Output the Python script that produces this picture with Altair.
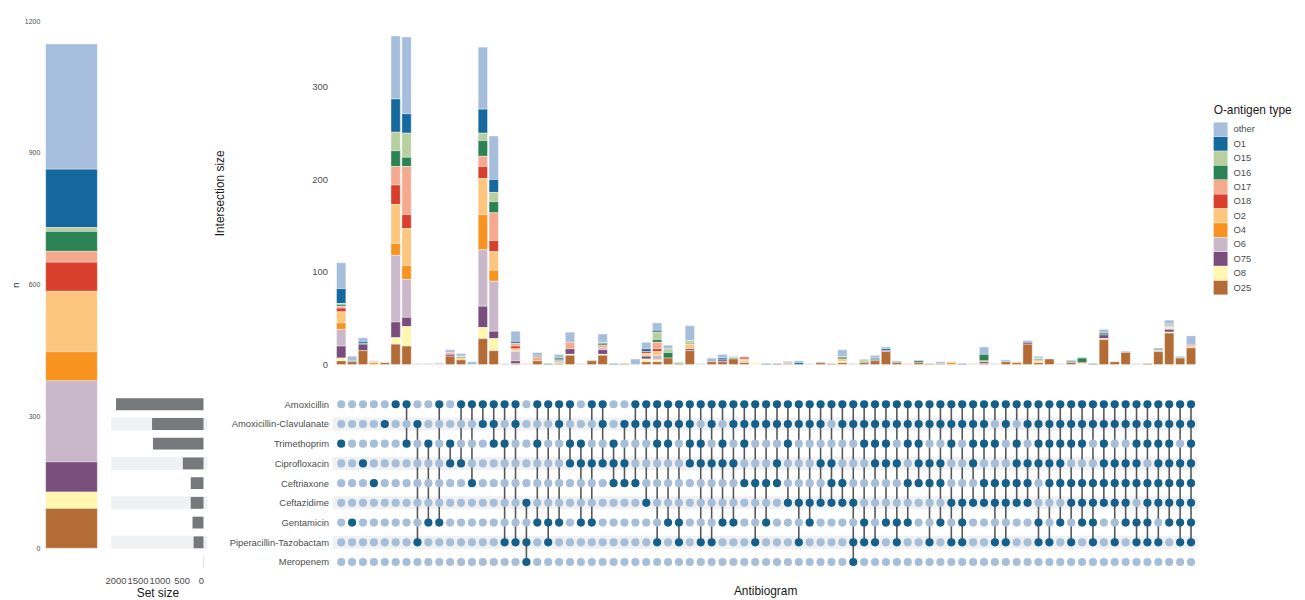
import altair as alt
import pandas as pd

# ---------------- data ----------------
antibiotics = ["Amoxicillin", "Amoxicillin-Clavulanate", "Trimethoprim", "Ciprofloxacin",
               "Ceftriaxone", "Ceftazidime", "Gentamicin", "Piperacillin-Tazobactam", "Meropenem"]
abx_codes = ["AMX", "AMC", "TMP", "CIP", "CRO", "CAZ", "GEN", "TZP", "MEM"]
set_size = [1990, 1170, 1150, 470, 290, 290, 250, 225, 4]

combinations = [
    "TMP", "GEN", "CIP", "CRO", "AMC", "AMX",
    "AMX TMP", "AMC TZP", "TMP GEN", "AMX GEN", "TMP CIP", "AMX CIP", "AMX CRO", "AMX AMC",
    "AMX AMC TMP", "AMX TMP TZP", "AMX AMC TZP", "CAZ TZP MEM", "AMX TMP GEN", "AMX GEN TZP",
    "AMX AMC GEN", "AMX TMP CIP", "TMP CIP GEN", "AMX CIP GEN", "AMX AMC CIP", "TMP CIP CRO",
    "AMC CIP CRO", "AMX AMC CRO", "AMX AMC CAZ",
    "AMX AMC TMP TZP", "AMX AMC TMP GEN", "AMX AMC GEN TZP", "AMX AMC TMP CIP", "AMX TMP CIP TZP",
    "AMX AMC CIP TZP", "AMX TMP CIP GEN", "AMX AMC CIP GEN", "AMX AMC TMP CRO", "AMX AMC CRO TZP",
    "AMX AMC CRO GEN", "AMX AMC CIP CRO", "AMX AMC TMP CAZ", "AMX AMC CAZ TZP", "AMX AMC CAZ GEN",
    "AMX AMC CIP CAZ", "AMX CIP CRO CAZ", "AMX AMC CRO CAZ",
    "AMX AMC CAZ TZP MEM", "AMX AMC TMP GEN TZP", "AMX AMC TMP CIP TZP", "AMX AMC TMP CIP GEN",
    "AMX AMC CIP GEN TZP", "AMX AMC TMP CRO GEN", "AMX AMC TMP CIP CRO", "AMX AMC CIP CRO TZP",
    "AMX AMC CIP CRO GEN", "AMX AMC TMP CAZ TZP", "AMX AMC CAZ GEN TZP", "AMX AMC TMP CIP CAZ",
    "AMX AMC TMP CRO CAZ", "AMX TMP CRO CAZ TZP", "AMX AMC CRO CAZ TZP", "AMX TMP CIP CRO CAZ",
    "AMX AMC CIP CRO CAZ",
    "AMX AMC TMP CIP GEN TZP", "AMX AMC TMP CIP CRO TZP", "AMX AMC TMP CIP CRO GEN",
    "AMX AMC TMP CRO CAZ TZP", "AMX AMC TMP CRO CAZ GEN", "AMX AMC CRO CAZ GEN TZP",
    "AMX AMC TMP CIP CRO CAZ", "AMX AMC CIP CRO CAZ TZP", "AMX AMC CIP CRO CAZ GEN",
    "AMX AMC TMP CIP CRO GEN TZP", "AMX AMC TMP CRO CAZ GEN TZP", "AMX AMC TMP CIP CRO CAZ TZP",
    "AMX AMC TMP CIP CRO CAZ GEN", "AMX AMC CIP CRO CAZ GEN TZP",
    "AMX AMC TMP CIP CRO CAZ GEN TZP",
]

o_types = ["other", "O1", "O15", "O16", "O17", "O18", "O2", "O4", "O6", "O75", "O8", "O25"]
o_colors = ["#a6bddb", "#16699f", "#b8cf9f", "#2b8252", "#f5a98f", "#d83f2c",
            "#fcc67f", "#f7931e", "#c8b8c9", "#7a4e7c", "#fff6b0", "#b46c36"]

# left bar: total n by O-antigen type
total_n = [285, 133, 9, 45, 25, 66, 138, 66, 185, 68, 38, 90]

# intersection sizes per O-antigen type (one value per antibiogram column)
other = [28, 5, 4, 1, 0, 68, 83, 0, 1, 1,
         3, 3, 3, 67, 47, 1, 11, 0, 4, 0,
         4, 11, 1, 1, 8, 0, 0, 6, 7, 8,
         4, 0, 16, 1, 4, 4, 1, 0, 0, 0,
         0, 0, 2, 0, 1, 0, 6, 1, 1, 3,
         2, 1, 0, 1, 0, 2, 1, 0, 0, 8,
         0, 2, 0, 2, 2, 0, 1, 1, 1, 0,
         4, 0, 0, 1, 0, 3, 4, 2, 10]
O1 = [16, 0, 2, 0, 0, 36, 21, 0, 0, 0,
      0, 0, 0, 26, 14, 0, 2, 0, 0, 0,
      0, 0, 0, 0, 1, 1, 0, 0, 3, 2,
      0, 0, 0, 0, 0, 2, 0, 0, 0, 0,
      0, 1, 2, 0, 0, 0, 1, 0, 0, 1,
      2, 1, 0, 0, 0, 0, 0, 0, 0, 0,
      0, 0, 0, 0, 0, 0, 0, 1, 0, 0,
      0, 0, 1, 0, 0, 0, 1, 0, 0]
O15 = [1, 0, 0, 0, 0, 20, 26, 0, 0, 0,
       0, 1, 0, 8, 10, 0, 0, 0, 0, 0,
       0, 0, 0, 0, 1, 0, 0, 0, 0, 8,
       4, 0, 3, 0, 0, 0, 1, 0, 0, 0,
       0, 0, 0, 0, 0, 0, 1, 0, 2, 0,
       0, 0, 0, 0, 0, 0, 0, 0, 1, 0,
       0, 0, 0, 0, 1, 0, 0, 0, 0, 0,
       0, 0, 0, 0, 0, 1, 1, 0, 0]
O16 = [2, 1, 1, 0, 0, 17, 10, 0, 0, 0,
       0, 1, 0, 17, 12, 0, 0, 0, 1, 1,
       2, 0, 0, 0, 2, 0, 0, 0, 0, 3,
       6, 1, 1, 0, 0, 0, 1, 0, 0, 1,
       0, 0, 0, 0, 0, 0, 2, 0, 1, 1,
       0, 0, 0, 2, 0, 0, 0, 0, 0, 7,
       0, 0, 0, 0, 1, 0, 0, 1, 5, 1,
       2, 0, 0, 0, 0, 0, 1, 0, 0]
O17 = [2, 0, 0, 0, 0, 20, 52, 0, 0, 1,
       2, 0, 0, 11, 30, 0, 3, 1, 4, 0,
       0, 7, 0, 0, 3, 0, 0, 0, 0, 7,
       0, 0, 0, 0, 0, 0, 0, 0, 0, 0,
       0, 0, 0, 0, 0, 0, 0, 0, 0, 0,
       0, 0, 1, 0, 0, 0, 0, 0, 0, 0,
       0, 0, 0, 0, 0, 0, 0, 0, 0, 0,
       0, 0, 0, 0, 0, 0, 1, 0, 2]
O18 = [4, 0, 0, 0, 0, 21, 15, 0, 0, 0,
       0, 0, 0, 13, 12, 0, 3, 0, 0, 0,
       0, 0, 0, 0, 0, 0, 0, 0, 2, 3,
       0, 0, 0, 0, 0, 0, 0, 2, 0, 0,
       0, 0, 0, 0, 0, 0, 0, 0, 0, 0,
       0, 0, 0, 0, 0, 0, 0, 0, 0, 0,
       0, 0, 0, 0, 0, 0, 0, 0, 1, 0,
       0, 0, 0, 0, 1, 0, 0, 0, 0]
O2 = [12, 0, 0, 1, 0, 42, 40, 0, 0, 0,
      0, 2, 0, 39, 20, 0, 2, 0, 0, 0,
      0, 0, 0, 0, 0, 0, 0, 0, 2, 4,
      0, 0, 5, 0, 0, 0, 0, 2, 0, 0,
      0, 1, 0, 0, 0, 0, 3, 0, 0, 0,
      0, 0, 0, 0, 0, 0, 0, 0, 0, 1,
      0, 0, 1, 0, 2, 0, 0, 0, 0, 0,
      0, 0, 0, 0, 0, 0, 1, 0, 1]
O4 = [7, 0, 0, 2, 0, 13, 15, 0, 0, 0,
      0, 0, 0, 38, 12, 0, 1, 0, 0, 0,
      0, 0, 0, 0, 0, 0, 0, 0, 1, 0,
      0, 0, 0, 0, 0, 0, 0, 1, 0, 0,
      0, 0, 0, 0, 0, 0, 0, 0, 0, 0,
      0, 0, 0, 0, 0, 0, 2, 0, 0, 0,
      0, 0, 0, 0, 0, 0, 0, 0, 0, 0,
      0, 0, 0, 0, 0, 0, 0, 0, 0]
O6 = [18, 0, 0, 0, 0, 72, 41, 1, 0, 0,
      0, 0, 0, 61, 54, 0, 10, 0, 0, 0,
      2, 0, 0, 0, 2, 0, 0, 0, 0, 5,
      0, 0, 0, 0, 0, 0, 0, 1, 0, 0,
      0, 0, 0, 1, 0, 0, 0, 0, 0, 0,
      0, 0, 0, 0, 0, 0, 0, 0, 0, 0,
      1, 0, 0, 0, 0, 0, 0, 0, 0, 0,
      0, 0, 0, 0, 0, 0, 1, 0, 0]
O75 = [13, 0, 7, 0, 0, 17, 10, 0, 0, 0,
       2, 0, 0, 23, 8, 0, 3, 0, 0, 0,
       1, 6, 0, 0, 5, 0, 0, 0, 3, 0,
       0, 0, 2, 0, 0, 2, 0, 0, 0, 0,
       1, 0, 0, 0, 0, 0, 0, 0, 0, 1,
       1, 0, 0, 0, 0, 0, 0, 1, 0, 2,
       0, 0, 0, 2, 0, 0, 0, 0, 0, 0,
       4, 0, 0, 0, 0, 0, 3, 0, 0]
O8 = [3, 0, 0, 0, 0, 7, 21, 0, 0, 0,
      0, 0, 0, 12, 13, 0, 0, 0, 0, 0,
      1, 1, 0, 0, 1, 0, 0, 0, 3, 2,
      0, 0, 0, 0, 0, 0, 0, 0, 2, 0,
      0, 0, 0, 0, 0, 0, 1, 0, 0, 0,
      0, 0, 0, 0, 0, 0, 0, 0, 0, 0,
      0, 0, 0, 0, 1, 0, 0, 0, 1, 0,
      1, 0, 0, 0, 0, 0, 1, 0, 0]
O25 = [4, 3, 15, 0, 2, 22, 20, 0, 0, 0,
       9, 5, 0, 28, 15, 0, 1, 0, 4, 0,
       1, 10, 0, 4, 10, 0, 1, 0, 3, 3,
       7, 1, 15, 0, 3, 3, 6, 2, 0, 0,
       0, 1, 0, 0, 2, 1, 2, 0, 2, 4,
       14, 2, 0, 2, 1, 1, 0, 0, 0, 1,
       0, 3, 2, 22, 2, 6, 0, 2, 0, 0,
       27, 3, 13, 0, 0, 14, 34, 7, 18]

series = [other, O1, O15, O16, O17, O18, O2, O4, O6, O75, O8, O25]

# ---------------- tables ----------------
bar_rows = []
for rank, (t, vals) in enumerate(zip(o_types, series)):
    for i, v in enumerate(vals):
        if v > 0:
            bar_rows.append({"col": i, "type": t, "n": v, "rank": rank})
bars_df = pd.DataFrame(bar_rows)

dot_rows, line_rows = [], []
for i, combo in enumerate(combinations):
    members = combo.split()
    on_rows = []
    for r, code in enumerate(abx_codes):
        on = code in members
        dot_rows.append({"col": i, "row": r, "on": on})
        if on:
            on_rows.append(r)
    if len(on_rows) > 1:
        line_rows.append({"col": i, "r1": min(on_rows), "r2": max(on_rows)})
dots_df = pd.DataFrame(dot_rows)
lines_df = pd.DataFrame(line_rows)

stripe_df = pd.DataFrame({"row": [1, 3, 5, 7]})
stripe_df["lo"] = stripe_df["row"] - 0.33
stripe_df["hi"] = stripe_df["row"] + 0.33

size_df = pd.DataFrame({"row": list(range(9)), "size": set_size, "zero": [0] * 9})
size_df["lo"] = size_df["row"] - 0.3
size_df["hi"] = size_df["row"] + 0.3

total_df = pd.DataFrame({"type": o_types, "n": total_n, "rank": list(range(len(o_types))), "grp": "all"})

# ---------------- styling ----------------
FONT = "Liberation Sans"
LABEL_C = "#4d4d4d"
TITLE_C = "#1a1a1a"
DOT_DARK = "#155f8b"
DOT_LIGHT = "#a7bed9"
STRIPE = "#f0f1f3"

W_C, H_C = 872, 555
x_dom = [-0.80, 78.62]
row_range = [386, 545]

color_scale = alt.Scale(domain=o_types, range=o_colors)
legend = alt.Legend(title="O-antigen type", orient="none", legendX=1177, legendY=84,
                    symbolType="square", symbolSize=196, symbolStrokeWidth=0,
                    rowPadding=0.5, labelFontSize=9.5, labelColor=LABEL_C,
                    titleFontSize=12, titleFontWeight="normal", titleColor=TITLE_C,
                    titlePadding=6, labelOffset=6)

x_enc = alt.X("col:Q", scale=alt.Scale(domain=x_dom, nice=False, zero=False, padding=0),
              axis=alt.Axis(title="Antibiogram", labels=False, ticks=False, domain=False,
                            grid=False, titlePadding=14, titleFontSize=12,
                            titleFontWeight="normal", titleColor=TITLE_C))
row_scale = alt.Scale(domain=[0, 8], range=row_range, nice=False, zero=False)
label_expr = "[" + ",".join("'%s'" % a for a in antibiotics) + "][datum.value]"

# ---------------- left: total n stacked bar ----------------
chart_a = alt.Chart(total_df).mark_bar(stroke="white", strokeWidth=0.3).encode(
    x=alt.X("grp:N", axis=None, scale=alt.Scale(paddingInner=0, paddingOuter=0)),
    y=alt.Y("n:Q", stack="zero", scale=alt.Scale(domain=[0, 1200], nice=False),
            axis=alt.Axis(values=[0, 300, 600, 900, 1200], format="d", title="n", grid=False,
                          ticks=False, domain=False, labelFontSize=7, labelColor=LABEL_C,
                          labelPadding=6, titleFontSize=10, titleFontWeight="normal",
                          titleColor=TITLE_C, titlePadding=4)),
    color=alt.Color("type:N", scale=color_scale, legend=legend),
    order=alt.Order("rank:Q", sort="descending"),
).properties(width=52, height=531)

# ---------------- middle: set size ----------------
sx = alt.Scale(domain=[0, 2100], range=[93, 0], nice=False)
b_stripes = alt.Chart(stripe_df).mark_rect(color=STRIPE).encode(
    x=alt.value(0), x2=alt.value(97),
    y=alt.Y("lo:Q", scale=row_scale, axis=None), y2="hi:Q")
b_bars = alt.Chart(size_df).mark_rect(color="#77787b").encode(
    x=alt.X("zero:Q", scale=sx,
            axis=alt.Axis(values=[0, 500, 1000, 1500, 2000], format="d", title="Set size",
                          grid=False, ticks=False, domain=False, labelOverlap=False,
                          labelFontSize=9.5, labelColor=LABEL_C, labelPadding=4,
                          titleFontSize=12, titleFontWeight="normal",
                          titleColor=TITLE_C, titlePadding=2)),
    x2="size:Q",
    y=alt.Y("lo:Q", scale=row_scale, axis=None), y2="hi:Q")
chart_b = alt.layer(b_stripes, b_bars).properties(width=209, height=H_C)

# ---------------- right: intersections + matrix ----------------
top = alt.Chart(bars_df).mark_bar(size=9.4, orient="vertical", stroke="white", strokeWidth=0.4).encode(
    x=x_enc,
    y=alt.Y("n:Q", stack="zero", scale=alt.Scale(domain=[0, 371], range=[346, 0], nice=False),
            axis=alt.Axis(values=[0, 100, 200, 300], title="Intersection size", orient="left",
                          grid=False, ticks=False, domain=False, labelFontSize=9.5,
                          labelColor=LABEL_C, labelPadding=5, titleFontSize=12,
                          titleFontWeight="normal", titleColor=TITLE_C, titlePadding=86)),
    color=alt.Color("type:N", scale=color_scale, legend=legend),
    order=alt.Order("rank:Q", sort="descending"),
)
stripes = alt.Chart(stripe_df).mark_rect(color=STRIPE).encode(
    x=alt.value(0), x2=alt.value(W_C),
    y=alt.Y("lo:Q", scale=row_scale, axis=None), y2="hi:Q")
lines = alt.Chart(lines_df).mark_rule(color="#3a3a3a", strokeWidth=1.6, opacity=0.85).encode(
    x=x_enc, y=alt.Y("r1:Q", scale=row_scale, axis=None), y2="r2:Q")
dots_off = alt.Chart(dots_df).transform_filter("!datum.on").mark_circle(
    size=68, color=DOT_LIGHT, opacity=1).encode(
    x=x_enc, y=alt.Y("row:Q", scale=row_scale, axis=None))
dots_on = alt.Chart(dots_df).transform_filter("datum.on").mark_circle(
    size=68, color=DOT_DARK, opacity=1).encode(
    x=x_enc,
    y=alt.Y("row:Q", scale=row_scale,
            axis=alt.Axis(values=list(range(9)), labelExpr=label_expr, orient="left", title=None,
                          grid=False, ticks=False, domain=False, labelFontSize=9.5,
                          labelColor=LABEL_C, labelPadding=4)))
chart_c = alt.layer(top, stripes, lines, dots_off, dots_on).resolve_scale(
    y="independent").properties(width=W_C, height=H_C)

chart = alt.hconcat(chart_a, chart_b, chart_c, spacing=14, bounds="flush").properties(
    padding={"left": 2, "top": 7, "right": 5, "bottom": 5}
).configure(font=FONT).configure_view(stroke=None)

chart.save("out.html", embed_options={"renderer": "svg", "actions": False})
